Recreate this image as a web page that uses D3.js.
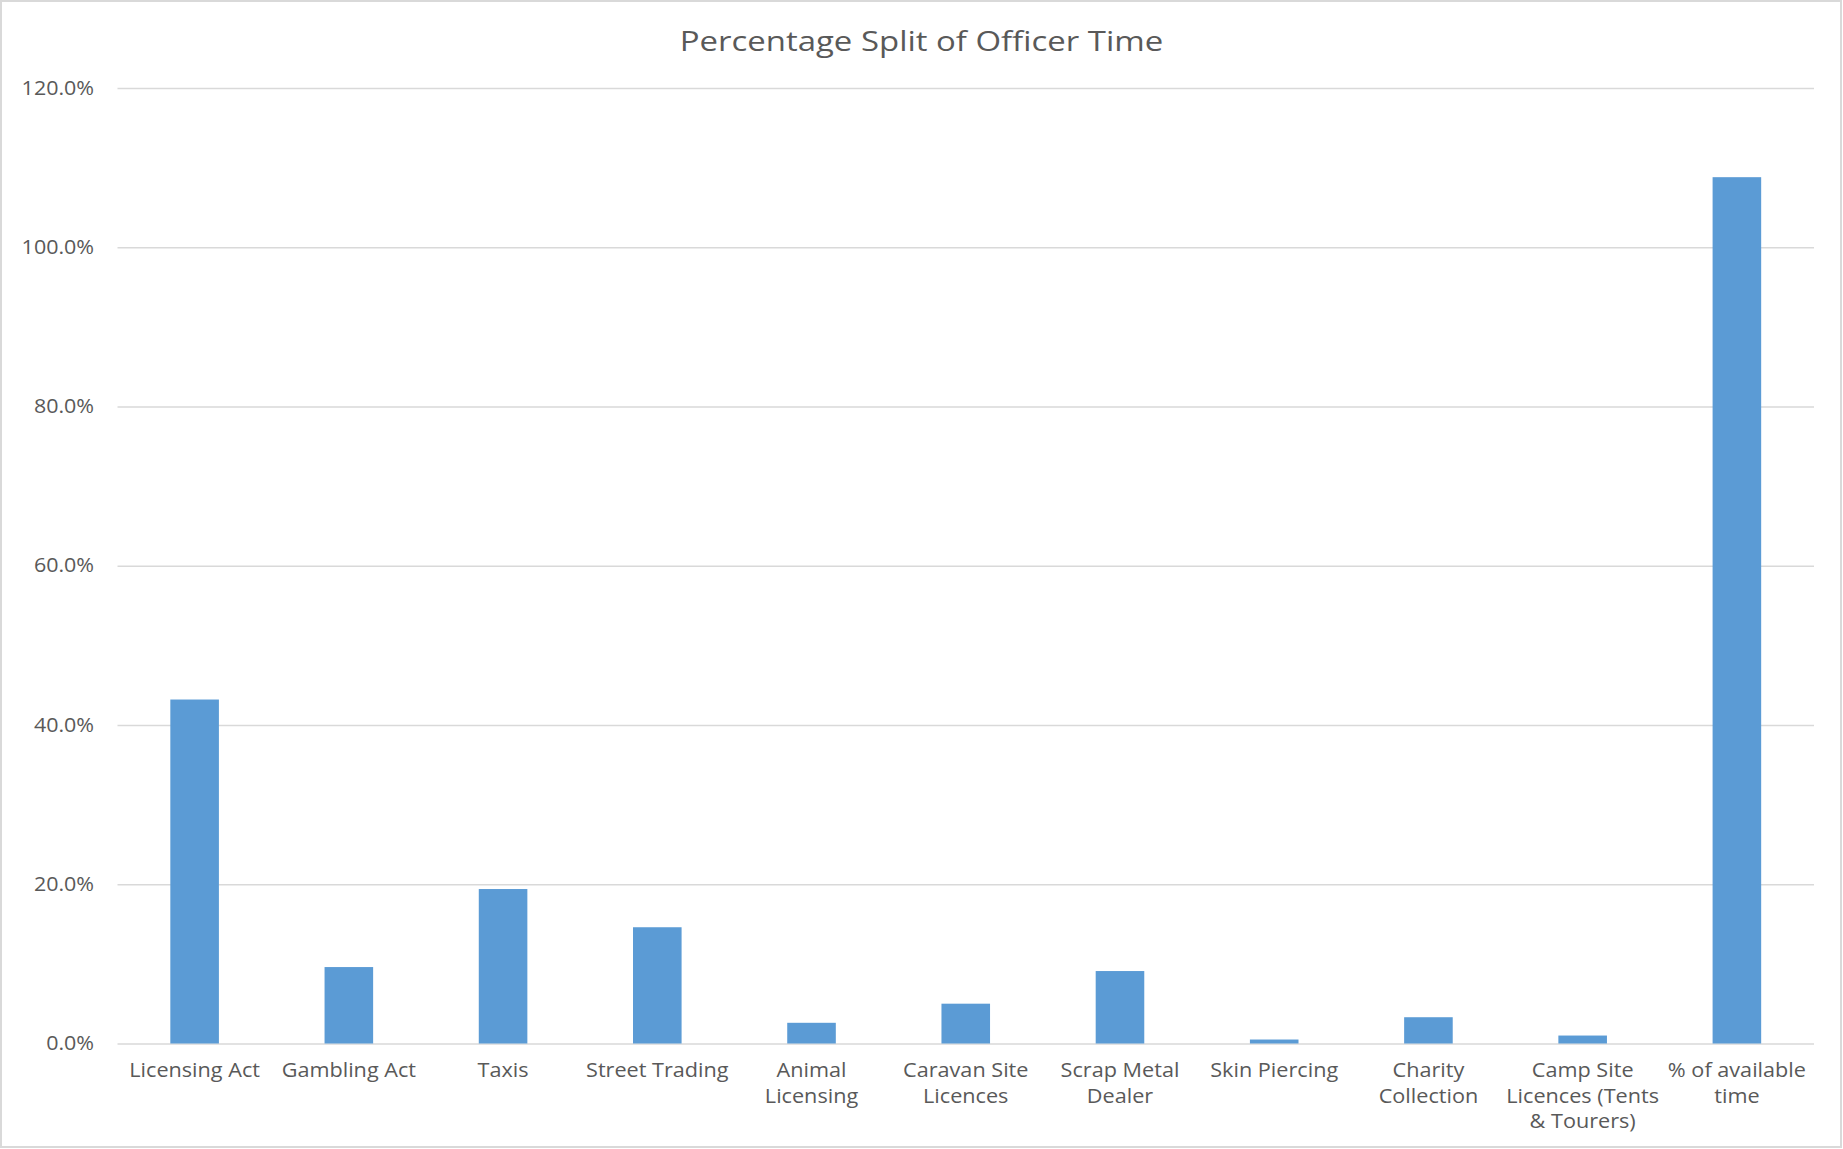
<!DOCTYPE html>
<html>
<head>
<meta charset="utf-8">
<script src="https://cdn.jsdelivr.net/npm/d3@7"></script>
<style>
  html, body { margin: 0; padding: 0; background: #ffffff; }
  svg { display: block; }
  text { font-family: "Open Sans", "Noto Sans", sans-serif; fill: #595959; }
</style>
</head>
<body>
<svg id="chart" width="1843" height="1149"></svg>
<script>
// ---- data ----
const title = "Percentage Split of Officer Time";
const categories = [
  "Licensing Act", "Gambling Act", "Taxis", "Street Trading", "Animal Licensing",
  "Caravan Site Licences", "Scrap Metal Dealer", "Skin Piercing", "Charity Collection",
  "Camp Site Licences (Tents & Tourers)", "% of available time"
];
const labelLines = [
  ["Licensing Act"], ["Gambling Act"], ["Taxis"], ["Street Trading"], ["Animal", "Licensing"],
  ["Caravan Site", "Licences"], ["Scrap Metal", "Dealer"], ["Skin Piercing"], ["Charity", "Collection"],
  ["Camp Site", "Licences (Tents", "& Tourers)"], ["% of available", "time"]
];
const values = [0.432, 0.096, 0.194, 0.146, 0.026, 0.050, 0.091, 0.005, 0.033, 0.010, 1.088];
const yTicks = [0, 0.2, 0.4, 0.6, 0.8, 1.0, 1.2];

// ---- layout ----
const W = 1843, H = 1149;
const plot = { left: 117.5, right: 1814, top: 88, bottom: 1043.5 };
const tickStretch = 1.1, catStretch = 1.11, titleStretch = 1.22;

const svg = d3.select("#chart");

// outer border
svg.append("rect")
  .attr("x", 1).attr("y", 1).attr("width", W - 3).attr("height", H - 3)
  .attr("fill", "#ffffff").attr("stroke", "#d9d9d9").attr("stroke-width", 2);

const x = d3.scaleBand()
  .domain(categories)
  .range([plot.left, plot.right])
  .paddingInner(0.685)
  .paddingOuter(0.3425);

const y = d3.scaleLinear()
  .domain([0, 1.2])
  .range([plot.bottom, plot.top]);

// y axis with gridlines
const pad = 23.5;
const yAxis = d3.axisLeft(y)
  .tickValues(yTicks)
  .tickFormat(d3.format(".1%"))
  .tickSize(-(plot.right - plot.left))
  .tickPadding(pad);

const gy = svg.append("g")
  .attr("transform", `translate(${plot.left},0)`)
  .call(yAxis);
gy.select(".domain").remove();
gy.selectAll(".tick line").attr("stroke", "#d9d9d9").attr("stroke-width", 1.5);
gy.selectAll(".tick text")
  .attr("font-size", 19.5)
  .attr("fill", "#595959")
  .attr("x", -pad / tickStretch)
  .attr("transform", `scale(${tickStretch},1)`)
  .style("font-family", '"Open Sans", "Noto Sans", sans-serif');

// bars
svg.append("g").selectAll("rect")
  .data(values)
  .join("rect")
  .attr("x", (d, i) => x(categories[i]))
  .attr("width", x.bandwidth())
  .attr("y", d => y(d))
  .attr("height", d => y(0) - y(d))
  .attr("fill", "#5b9bd5");

// x axis (category labels)
const xAxis = d3.axisBottom(x).tickSize(0).tickFormat("");
const gx = svg.append("g")
  .attr("transform", `translate(0,${plot.bottom})`)
  .call(xAxis);
gx.select(".domain").remove();
gx.selectAll(".tick").each(function(d, i) {
  const t = d3.select(this).append("text")
    .attr("text-anchor", "middle")
    .attr("font-size", 19.5)
    .attr("fill", "#595959")
    .attr("transform", `scale(${catStretch},1)`)
    .style("font-family", '"Open Sans", "Noto Sans", sans-serif');
  labelLines[i].forEach((line, j) => {
    t.append("tspan").attr("x", 0).attr("y", 33.5 + j * 25.7).text(line);
  });
});

// title
svg.append("text")
  .attr("x", 0)
  .attr("y", 0)
  .attr("transform", `translate(${W / 2},51) scale(${titleStretch},1)`)
  .attr("text-anchor", "middle")
  .attr("font-size", 27)
  .attr("fill", "#595959")
  .text(title);
</script>
</body>
</html>
